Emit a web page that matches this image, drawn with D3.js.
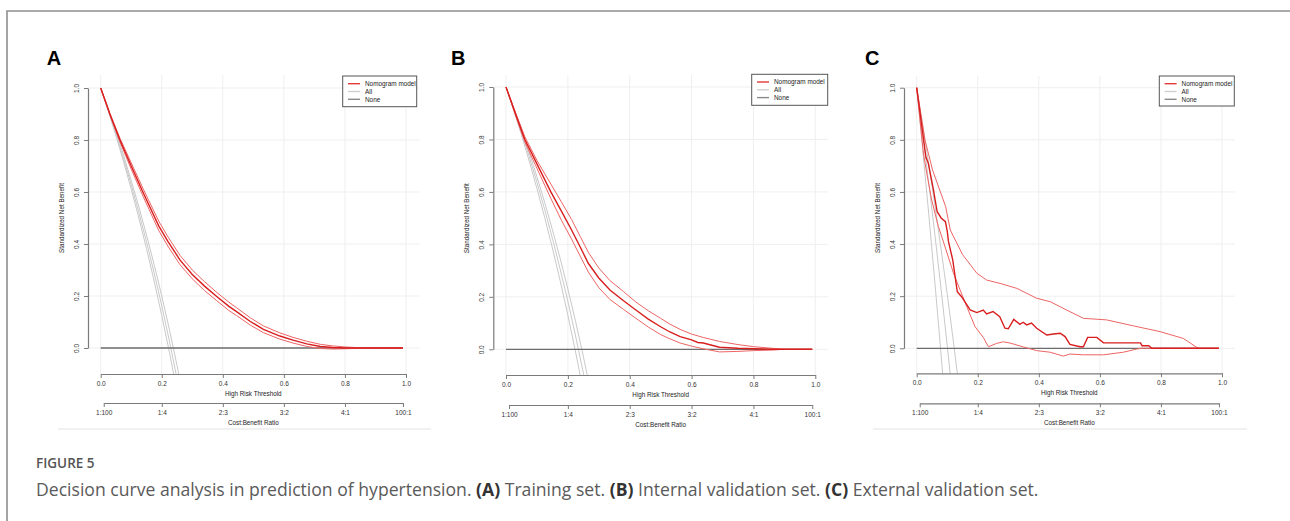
<!DOCTYPE html>
<html>
<head>
<meta charset="utf-8">
<script src="https://cdn.jsdelivr.net/npm/d3@7"></script>
<style>
  html, body { margin: 0; padding: 0; background: #fff; }
  svg { display: block; }
</style>
</head>
<body>
<svg id="fig" width="1290" height="521"></svg>
<script>
// axis ticks and labels
var thresholdTicks = [0, 0.2, 0.4, 0.6, 0.8, 1.0];
var benefitTicks = [0, 0.2, 0.4, 0.6, 0.8, 1.0];
var costBenefitLabels = ["1:100", "1:4", "2:3", "3:2", "4:1", "100:1"];
var costBenefitThresholds = [0.0099, 0.2, 0.4, 0.6, 0.8, 0.9901];
var legendLabels = ["Nomogram model", "All", "None"];
var panelLetters = ["A", "B", "C"];

// threshold points for the "All" curves
var allPtAB = [0, 0.025, 0.05, 0.075, 0.1, 0.125, 0.15, 0.175, 0.2, 0.225, 0.25, 0.275];
var allPtC = [0, 0.02, 0.04, 0.06, 0.08, 0.1, 0.12, 0.14];

// panel A - training set
var allA1 = [1, 0.918, 0.832, 0.741, 0.644, 0.543, 0.435, 0.321, 0.200, 0.071, -0.067, -0.214];
var allA2 = [1, 0.914, 0.824, 0.728, 0.628, 0.521, 0.409, 0.289, 0.163, 0.027, -0.117, -0.271];
var allA3 = [1, 0.910, 0.816, 0.716, 0.611, 0.500, 0.382, 0.258, 0.125, -0.016, -0.167, -0.328];
var modelA = [[0,1],[0.03,0.9],[0.063,0.8],[0.1,0.7],[0.14,0.595],[0.19,0.47],[0.22,0.41],[0.26,0.338],[0.3,0.283],[0.34,0.238],[0.38,0.198],[0.42,0.16],[0.445,0.14],[0.49,0.102],[0.533,0.072],[0.587,0.046],[0.63,0.03],[0.675,0.016],[0.72,0.006],[0.76,0.002],[0.8,0],[0.99,0]];
var upperA = [[0,1],[0.03,0.903],[0.063,0.807],[0.1,0.712],[0.14,0.61],[0.19,0.488],[0.22,0.428],[0.26,0.356],[0.3,0.3],[0.34,0.255],[0.38,0.214],[0.42,0.176],[0.445,0.155],[0.49,0.116],[0.533,0.085],[0.587,0.058],[0.63,0.041],[0.675,0.026],[0.72,0.014],[0.76,0.008],[0.8,0.004],[0.85,0.001],[0.88,0],[0.99,0]];
var lowerA = [[0,1],[0.03,0.897],[0.063,0.793],[0.1,0.688],[0.14,0.58],[0.19,0.452],[0.22,0.392],[0.26,0.32],[0.3,0.266],[0.34,0.221],[0.38,0.182],[0.42,0.144],[0.445,0.125],[0.49,0.088],[0.533,0.059],[0.587,0.034],[0.63,0.019],[0.675,0.006],[0.72,-0.002],[0.76,-0.004],[0.8,-0.003],[0.85,-0.001],[0.88,0],[0.99,0]];

// panel B - internal validation set
var allB1 = [1, 0.921, 0.838, 0.750, 0.658, 0.560, 0.456, 0.347, 0.230, 0.106, -0.027, -0.168];
var allB2 = [1, 0.916, 0.828, 0.735, 0.637, 0.533, 0.423, 0.306, 0.183, 0.051, -0.090, -0.240];
var allB3 = [1, 0.911, 0.817, 0.718, 0.613, 0.503, 0.386, 0.262, 0.130, -0.010, -0.160, -0.320];
var modelB = [[0,1],[0.03,0.9],[0.061,0.8],[0.1,0.707],[0.145,0.6],[0.18,0.525],[0.212,0.455],[0.24,0.39],[0.266,0.328],[0.3,0.272],[0.336,0.226],[0.38,0.185],[0.42,0.15],[0.46,0.115],[0.5,0.086],[0.53,0.066],[0.563,0.048],[0.6,0.036],[0.62,0.026],[0.638,0.024],[0.69,0.008],[0.75,0.004],[0.8,0.002],[0.86,0],[0.99,0]];
var upperB = [[0,1],[0.03,0.905],[0.061,0.81],[0.1,0.72],[0.145,0.63],[0.18,0.56],[0.212,0.495],[0.24,0.43],[0.266,0.37],[0.3,0.31],[0.336,0.262],[0.38,0.22],[0.42,0.18],[0.46,0.147],[0.5,0.118],[0.53,0.096],[0.563,0.076],[0.6,0.058],[0.638,0.045],[0.69,0.03],[0.75,0.018],[0.8,0.01],[0.86,0.004],[0.9,0],[0.99,0]];
var lowerB = [[0,1],[0.03,0.895],[0.061,0.79],[0.1,0.69],[0.145,0.575],[0.18,0.49],[0.212,0.42],[0.24,0.355],[0.266,0.295],[0.3,0.235],[0.336,0.19],[0.38,0.152],[0.42,0.118],[0.46,0.085],[0.5,0.056],[0.53,0.04],[0.563,0.024],[0.6,0.012],[0.638,0.002],[0.69,-0.01],[0.75,-0.008],[0.8,-0.005],[0.86,-0.003],[0.9,0],[0.99,0]];

// panel C - external validation set
var allC1 = [1, 0.855, 0.703, 0.545, 0.380, 0.208, 0.028, -0.161];
var allC2 = [1, 0.818, 0.629, 0.432, 0.226, 0.011, -0.214, -0.449];
var allC3 = [1, 0.759, 0.508, 0.247, -0.026, -0.311, -0.609, -0.920];
var modelC = [[0,1],[0.03,0.735],[0.038,0.71],[0.055,0.607],[0.067,0.524],[0.08,0.5],[0.094,0.486],[0.1,0.45],[0.104,0.41],[0.118,0.339],[0.133,0.217],[0.147,0.198],[0.175,0.147],[0.197,0.137],[0.218,0.147],[0.229,0.132],[0.25,0.141],[0.272,0.121],[0.289,0.077],[0.3,0.075],[0.318,0.111],[0.338,0.092],[0.349,0.1],[0.36,0.09],[0.376,0.097],[0.393,0.077],[0.426,0.051],[0.448,0.055],[0.47,0.058],[0.486,0.045],[0.502,0.015],[0.535,0.006],[0.546,0.006],[0.56,0.042],[0.59,0.042],[0.612,0.021],[0.733,0.021],[0.738,0.01],[0.76,0.01],[0.77,0],[0.99,0]];
var upperC = [[0,1],[0.027,0.8],[0.052,0.684],[0.095,0.543],[0.11,0.454],[0.15,0.36],[0.197,0.288],[0.229,0.262],[0.273,0.249],[0.328,0.23],[0.393,0.192],[0.437,0.179],[0.491,0.147],[0.546,0.115],[0.622,0.109],[0.71,0.086],[0.797,0.064],[0.873,0.038],[0.917,0.004],[0.925,0],[0.99,0]];
var lowerC = [[0,1],[0.022,0.748],[0.033,0.672],[0.049,0.569],[0.071,0.467],[0.09,0.4],[0.12,0.29],[0.142,0.224],[0.164,0.16],[0.191,0.083],[0.218,0.042],[0.235,0.006],[0.262,0.019],[0.284,0.025],[0.306,0.02],[0.35,0.005],[0.393,-0.009],[0.437,-0.015],[0.48,-0.03],[0.502,-0.022],[0.546,-0.025],[0.612,-0.025],[0.677,-0.015],[0.72,-0.003],[0.735,0],[0.99,0]];

var panels = [
  { letter: panelLetters[0], x0: 100.7, x1: 406, y0: 348, y1: 88, left: 88, right: 420, top: 75, bottom: 374, axis2Y: 403, letterX: 46.7,
    legend: { x: 342.7, y: 76, w: 74, h: 30.7 }, bottomLine: [58, 431],
    all: [allA1, allA2, allA3], allPt: allPtAB, model: modelA, upper: upperA, lower: lowerA },
  { letter: panelLetters[1], x0: 506, x1: 815.3, y0: 349.3, y1: 87, left: 493.3, right: 828, top: 75, bottom: 375, axis2Y: 405, letterX: 451,
    legend: { x: 751.7, y: 74.3, w: 76, h: 31 }, bottomLine: null,
    all: [allB1, allB2, allB3], allPt: allPtAB, model: modelB, upper: upperB, lower: lowerB },
  { letter: panelLetters[2], x0: 916.7, x1: 1222, y0: 348.3, y1: 87.7, left: 904, right: 1235, top: 76, bottom: 373.3, axis2Y: 403.3, letterX: 865,
    legend: { x: 1159.3, y: 76, w: 75, h: 30 }, bottomLine: [873, 1247],
    all: [allC1, allC2, allC3], allPt: allPtC, model: modelC, upper: upperC, lower: lowerC }
];

var svg = d3.select('#fig');
var chartFont = "'Liberation Sans', Arial, sans-serif";

// outer frame
svg.append('path')
  .attr('d', 'M7,521 L7,11 L1290,11')
  .attr('fill', 'none')
  .attr('stroke', '#8f8f8f')
  .attr('stroke-width', 1.6);

panels.forEach(function (p, i) {
  var x = d3.scaleLinear().domain([0, 1]).range([p.x0, p.x1]);
  var y = d3.scaleLinear().domain([0, 1]).range([p.y0, p.y1]);
  var g = svg.append('g').attr('class', 'panel');

  // panel letter
  g.append('text')
    .attr('x', p.letterX).attr('y', 65)
    .style('font-family', chartFont)
    .style('font-weight', 'bold')
    .style('font-size', '20px')
    .attr('fill', '#000')
    .text(p.letter);

  if (p.bottomLine) {
    g.append('line')
      .attr('x1', p.bottomLine[0]).attr('x2', p.bottomLine[1])
      .attr('y1', 429).attr('y2', 429)
      .attr('stroke', '#ececec').attr('stroke-width', 1.5);
  }

  // grid
  g.selectAll('line.vgrid').data(thresholdTicks).enter().append('line')
    .attr('class', 'vgrid')
    .attr('x1', d => x(d)).attr('x2', d => x(d))
    .attr('y1', p.top).attr('y2', p.bottom)
    .attr('stroke', '#efefef').attr('stroke-width', 1);
  g.selectAll('line.hgrid').data(benefitTicks).enter().append('line')
    .attr('class', 'hgrid')
    .attr('x1', p.left).attr('x2', p.right)
    .attr('y1', d => y(d)).attr('y2', d => y(d))
    .attr('stroke', '#efefef').attr('stroke-width', 1);

  var clipId = 'clip' + i;
  g.append('clipPath').attr('id', clipId).append('rect')
    .attr('x', p.left).attr('y', p.top)
    .attr('width', p.right - p.left).attr('height', p.bottom - p.top);

  var plot = g.append('g').attr('clip-path', 'url(#' + clipId + ')');
  var line = d3.line().x(d => x(d[0])).y(d => y(d[1]));

  // "All" curves
  p.all.forEach(function (vals) {
    var pts = vals.map((v, j) => [p.allPt[j], v]);
    plot.append('path').datum(pts)
      .attr('d', line)
      .attr('fill', 'none')
      .attr('stroke', '#c9c9c9')
      .attr('stroke-width', 1);
  });

  // "None"
  plot.append('path').datum([[0, 0], [0.99, 0]])
    .attr('d', line)
    .attr('fill', 'none')
    .attr('stroke', '#6d6d6d')
    .attr('stroke-width', 1.3);

  // model with confidence bounds
  [p.upper, p.lower].forEach(function (s) {
    plot.append('path').datum(s)
      .attr('d', line)
      .attr('fill', 'none')
      .attr('stroke', '#ee6464')
      .attr('stroke-width', 1);
  });
  plot.append('path').datum(p.model)
    .attr('d', line)
    .attr('fill', 'none')
    .attr('stroke', '#d81e1e')
    .attr('stroke-width', 1.4);

  // axes
  var xAxis = d3.axisBottom(x).tickValues(thresholdTicks)
    .tickFormat(d3.format('.1f')).tickSize(4).tickSizeOuter(0).tickPadding(3);
  var gx = g.append('g').attr('transform', 'translate(0,' + p.bottom + ')').call(xAxis);

  var yAxis = d3.axisLeft(y).tickValues(benefitTicks)
    .tickFormat(d3.format('.1f')).tickSize(4).tickSizeOuter(0);
  var gy = g.append('g').attr('transform', 'translate(' + p.left + ',0)').call(yAxis);
  gy.selectAll('.tick text')
    .attr('x', null).attr('dy', null)
    .attr('text-anchor', 'middle')
    .attr('transform', 'translate(-9,0) rotate(-90)');

  var x2 = d3.scaleLinear()
    .domain([costBenefitThresholds[0], costBenefitThresholds[5]])
    .range([x(costBenefitThresholds[0]), x(costBenefitThresholds[5])]);
  var axis2 = d3.axisBottom(x2).tickValues(costBenefitThresholds)
    .tickFormat((d, j) => costBenefitLabels[j]).tickSize(4).tickSizeOuter(0).tickPadding(3);
  var gx2 = g.append('g').attr('transform', 'translate(0,' + p.axis2Y + ')').call(axis2);

  [gx, gy, gx2].forEach(function (a) {
    a.select('.domain').attr('stroke', '#7a7a7a').attr('stroke-width', 1.2);
    a.selectAll('.tick line').attr('stroke', '#7a7a7a');
    a.selectAll('.tick text')
      .style('font-family', chartFont)
      .style('font-size', '6.5px')
      .attr('fill', '#333');
  });

  // axis titles
  g.append('text')
    .attr('x', (p.x0 + p.x1) / 2).attr('y', p.bottom + 21.5)
    .attr('text-anchor', 'middle')
    .style('font-family', chartFont).style('font-size', '6.3px')
    .attr('fill', '#222')
    .text('High Risk Threshold');
  g.append('text')
    .attr('x', (p.x0 + p.x1) / 2).attr('y', p.axis2Y + 21.5)
    .attr('text-anchor', 'middle')
    .style('font-family', chartFont).style('font-size', '6.3px')
    .attr('fill', '#222')
    .text('Cost:Benefit Ratio');
  g.append('text')
    .attr('transform', 'translate(' + (p.left - 24) + ',' + ((p.y0 + p.y1) / 2) + ') rotate(-90)')
    .attr('text-anchor', 'middle')
    .style('font-family', chartFont).style('font-size', '6.3px')
    .attr('fill', '#222')
    .text('Standardized Net Benefit');

  // legend
  var lg = g.append('g').attr('transform', 'translate(' + p.legend.x + ',' + p.legend.y + ')');
  lg.append('rect')
    .attr('width', p.legend.w).attr('height', p.legend.h)
    .attr('fill', '#fff').attr('stroke', '#555').attr('stroke-width', 1);
  var legendColors = ['#e33a3a', '#cfcfcf', '#8a8a8a'];
  legendLabels.forEach(function (lab, j) {
    var ly = 7.7 + j * 7.8;
    lg.append('line')
      .attr('x1', 5.3).attr('x2', 17.3)
      .attr('y1', ly).attr('y2', ly)
      .attr('stroke', legendColors[j]).attr('stroke-width', 1.4);
    lg.append('text')
      .attr('x', 22.3).attr('y', ly + 2.2)
      .style('font-family', chartFont).style('font-size', '6.4px')
      .attr('fill', '#222')
      .text(lab);
  });
});

// caption
svg.append('text')
  .attr('x', 36).attr('y', 468)
  .style('font-family', "'Open Sans', sans-serif")
  .style('font-weight', 600)
  .style('font-size', '13.5px')
  .attr('fill', '#555')
  .text('FIGURE 5');

var cap = svg.append('text')
  .attr('x', 36).attr('y', 496)
  .style('font-family', "'Open Sans', sans-serif")
  .style('font-size', '17.6px')
  .attr('fill', '#5a5a5a');
var capParts = [
  ['Decision curve analysis in prediction of hypertension. ', 400],
  ['(A)', 700], [' Training set. ', 400],
  ['(B)', 700], [' Internal validation set. ', 400],
  ['(C)', 700], [' External validation set.', 400]
];
capParts.forEach(function (c) {
  cap.append('tspan').style('font-weight', c[1]).attr('fill', c[1] > 400 ? '#333' : '#5a5a5a').text(c[0]);
});
</script>
</body>
</html>
